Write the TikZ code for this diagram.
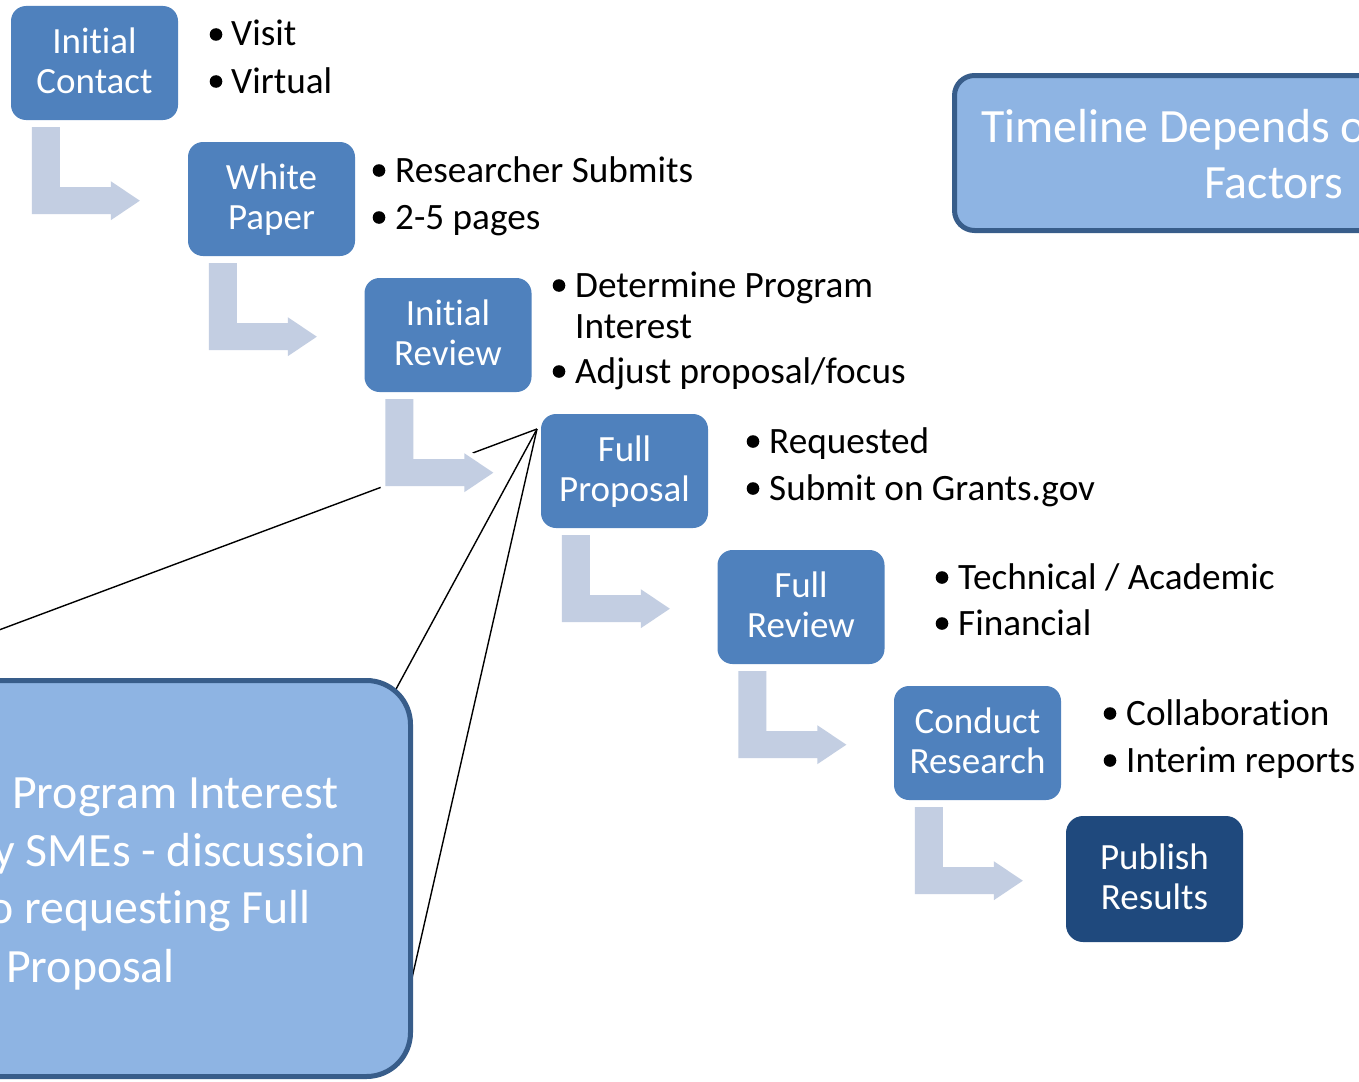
\documentclass[tikz,border=0pt]{standalone}
\usepackage{fontspec}
\setmainfont{Carlito}[RawFeature=-liga]
\definecolor{boxblue}{HTML}{4F81BD}
\definecolor{darkblue}{HTML}{1F497D}
\definecolor{arrowfill}{HTML}{C3CEE2}
\definecolor{calloutfill}{HTML}{8EB4E3}
\definecolor{calloutborder}{HTML}{385D8A}
\newcommand\mystrut{\rule[-7pt]{0pt}{34pt}}
\begin{document}
\begin{tikzpicture}[x=1pt,y=-1pt,
  stepbox/.style={rectangle, rounded corners=15pt, fill=boxblue, minimum width=167pt, minimum height=114pt, inner sep=0pt, text=white, align=center, font=\fontsize{37}{40}\selectfont},
  bul/.style={anchor=base west, inner sep=0pt, font=\fontsize{37.2}{40}\selectfont},
  bdot/.style={fill=black},
  flowarrow/.style={fill=arrowfill, preaction={draw=white, line width=10pt, line join=round}},
  bigtxt/.style={inner sep=0pt, text=white, font=\fontsize{47.8}{57}\selectfont},
  pointer/.style={draw=black, line width=1.4pt},
  bigbox/.style={fill=calloutfill, draw=calloutborder, line width=5pt}
]
\useasboundingbox (0,0) rectangle (1359,1081);
\clip (0,0) rectangle (1359,1081);

% callout pointer lines
\coordinate (tip) at (537,429);
\coordinate (pa) at (-80,659.5);
\coordinate (pb) at (395,691);
\coordinate (pc) at (412,978);
\draw[pointer] (tip) -- (pa);
\draw[pointer] (tip) -- (pb);
\draw[pointer] (tip) -- (pc);

% callout box (mostly off canvas)
\path[bigbox, rounded corners=44pt] (-300,680.5) rectangle (410.5,1076.5);
\node[bigtxt, anchor=base west] (ct1) at (12,808) {Program Interest};
\node[bigtxt, anchor=base east] (ct2) at (366,866) {y SMEs - discussion};
\node[bigtxt, anchor=base east] (ct3) at (311,923) {o requesting Full};
\node[bigtxt, anchor=base west] (ct4) at (6,982) {Proposal};

% timeline box (partly off canvas)
\path[bigbox, rounded corners=20pt] (954.5,75.5) rectangle (1500,230.5);
\node[bigtxt, anchor=base west] (tl1) at (981,142) {Timeline Depends on};
\node[bigtxt, anchor=base west] (tl2) at (1204,198) {Factors};

% step boxes
\node[stepbox] (b1) at (94.5,63) {Initial\mystrut\\Contact\mystrut};
\node[stepbox] (b2) at (271.5,199) {White\mystrut\\Paper\mystrut};
\node[stepbox] (b3) at (448,335) {Initial\mystrut\\Review\mystrut};
\node[stepbox] (b4) at (624.5,471) {Full\mystrut\\Proposal\mystrut};
\node[stepbox] (b5) at (801,607) {Full\mystrut\\Review\mystrut};
\node[stepbox] (b6) at (977.5,743) {Conduct\mystrut\\Research\mystrut};
\node[stepbox, fill=darkblue, minimum width=177pt, minimum height=126pt, rounded corners=17pt] (b7) at (1154.5,879) {Publish\mystrut\\Results\mystrut};

% bent arrows between steps
\foreach \b in {b1,b2,b3,b4,b5,b6}{
  \path[flowarrow] ([shift={(21,7)}]\b.south west) -- ++(28,0) -- ++(0,60) -- ++(51,0) -- ++(0,-6) -- ++(29,19.5) -- ++(-29,19.5) -- ++(0,-6) -- ++(-79,0) -- cycle;
}

% bullets
\fill[bdot] (216,34.5) circle (6.3);
\node[bul] (t1a) at (231,46) {Visit};
\fill[bdot] (216,81.5) circle (6.3);
\node[bul] (t1b) at (231,93) {Virtual};

\fill[bdot] (379,170.5) circle (6.3);
\node[bul] (t2a) at (395,182) {Researcher Submits};
\fill[bdot] (379,217.5) circle (6.3);
\node[bul] (t2b) at (395,229) {2-5 pages};

\fill[bdot] (559,285.5) circle (6.3);
\node[bul] (t3a) at (575,297) {Determine Program};
\node[bul] (t3b) at (575,338) {Interest};
\fill[bdot] (559,371.5) circle (6.3);
\node[bul] (t3c) at (575,383) {Adjust proposal/focus};

\fill[bdot] (753,441.5) circle (6.3);
\node[bul] (t4a) at (769,453) {Requested};
\fill[bdot] (753,488.5) circle (6.3);
\node[bul] (t4b) at (769,500) {Submit on Grants.gov};

\fill[bdot] (942,577.5) circle (6.3);
\node[bul] (t5a) at (958,589) {Technical / Academic};
\fill[bdot] (942,623.5) circle (6.3);
\node[bul] (t5b) at (958,635) {Financial};

\fill[bdot] (1110,713.5) circle (6.3);
\node[bul] (t6a) at (1126,725) {Collaboration};
\fill[bdot] (1110,760.5) circle (6.3);
\node[bul] (t6b) at (1126,772) {Interim reports};
\end{tikzpicture}
\end{document}
